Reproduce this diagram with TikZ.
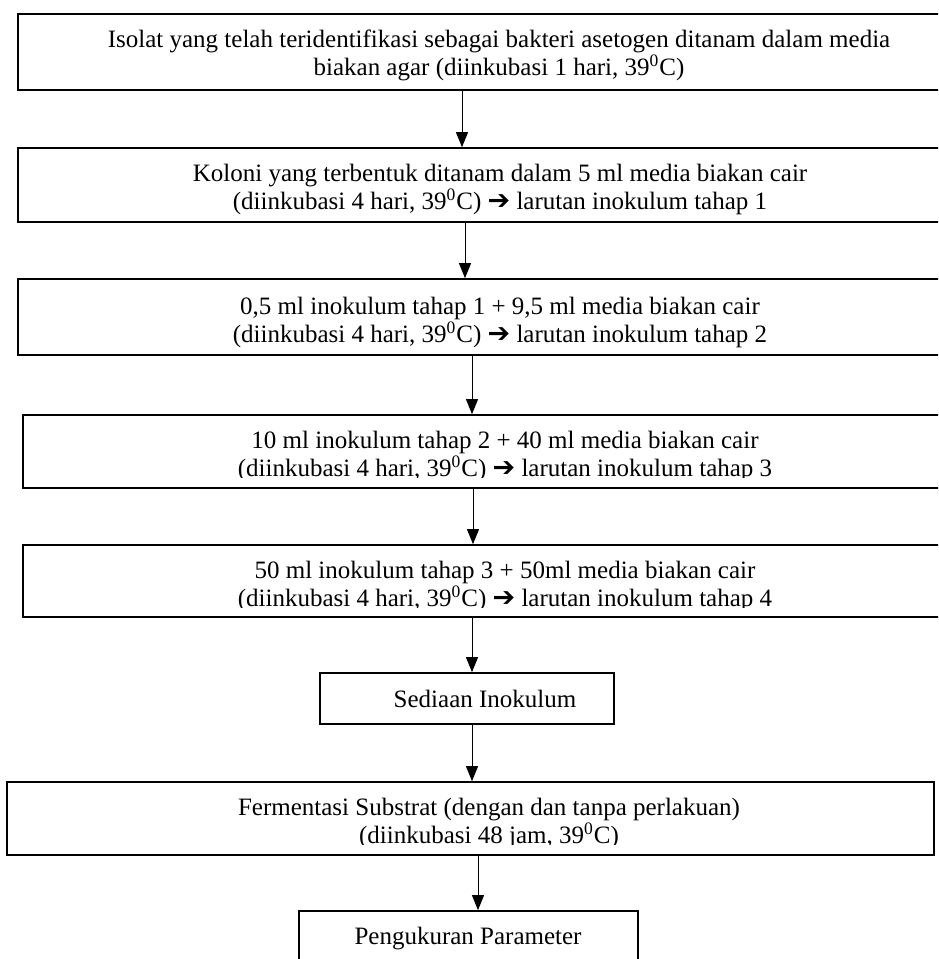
\documentclass[tikz,border=0pt]{standalone}
\usepackage{fontspec}
\setmainfont{Liberation Serif}
\newfontfamily\symfont{DejaVu Sans}
\usetikzlibrary{arrows.meta}
\usetikzlibrary{math}

\newcommand{\panah}{{\symfont\bfseries\fontsize{13.5}{14}\selectfont ➔}}
\newcommand{\suhu}{39\textsuperscript{0}C}

\begin{document}
\begin{tikzpicture}[x=0.5pt, y=-0.5pt,
stepbox/.style={draw, line width=0.85pt, inner sep=0pt},
txt/.style={align=center, inner sep=0pt, anchor=base, font=\fontsize{12.5}{14}\selectfont},
arr/.style={-{Triangle[length=7.5pt,width=6pt]}, line width=0.5pt}]
\tikzmath{
\W=482;
\H=37;
}

\clip (0,0) rectangle (938,959);
\fill[white] (0,0) rectangle (938,959);

\node[stepbox, minimum width=\W pt, minimum height=38pt] (b1) at (500,52) {};
\node[stepbox, minimum width=\W pt, minimum height=\H pt] (b2) at (500,185) {};
\node[stepbox, minimum width=\W pt, minimum height=38pt] (b3) at (500,317) {};
\node[stepbox, minimum width=\W pt, minimum height=36.5pt] (b4) at (505,451.5) {};
\node[stepbox, minimum width=\W pt, minimum height=36pt] (b5) at (505,581) {};
\node[stepbox, minimum width=147pt, minimum height=25.5pt] (b6) at (467,698.5) {};
\node[stepbox, minimum width=463.5pt, minimum height=36.5pt] (b7) at (470.5,818.5) {};
\node[stepbox, minimum width=169.5pt, minimum height=29pt] (b8) at (468.5,940) {};

\node[txt] (t1) at (499,75) {Isolat yang telah teridentifikasi sebagai bakteri asetogen ditanam dalam media\\biakan agar (diinkubasi 1 hari, \suhu)};
\node[txt] (t2) at (500,209) {Koloni yang terbentuk ditanam dalam 5 ml media biakan cair\\(diinkubasi 4 hari, \suhu) \panah{} larutan inokulum tahap 1};
\node[txt] (t3) at (500,342) {0,5 ml inokulum tahap 1 + 9,5 ml media biakan cair\\(diinkubasi 4 hari, \suhu) \panah{} larutan inokulum tahap 2};

\begin{scope}
\clip (23,415) rectangle (987,477);
\node[txt] (t4) at (505,476) {10 ml inokulum tahap 2 + 40 ml media biakan cair\\(diinkubasi 4 hari, \suhu) \panah{} larutan inokulum tahap 3};
\end{scope}

\begin{scope}
\clip (23,545) rectangle (987,607);
\node[txt] (t5) at (505,606) {50 ml inokulum tahap 3 + 50ml media biakan cair\\(diinkubasi 4 hari, \suhu) \panah{} larutan inokulum tahap 4};
\end{scope}

\node[txt] (t6) at (485,707) {Sediaan Inokulum};

\begin{scope}
\clip (7,782) rectangle (934,844);
\node[txt] (t7) at (489,843) {Fermentasi Substrat (dengan dan tanpa perlakuan)\\(diinkubasi 48 jam, \suhu)};
\end{scope}

\node[txt] (t8) at (468,944) {Pengukuran Parameter};

\foreach \a/\b/\xa in {b1/b2/462, b2/b3/465, b3/b4/472, b4/b5/473, b5/b6/472, b6/b7/472, b7/b8/478}{
\draw[arr] (\a.south -| \xa,0) -- (\b.north -| \xa,0);
}

\end{tikzpicture}
\end{document}
